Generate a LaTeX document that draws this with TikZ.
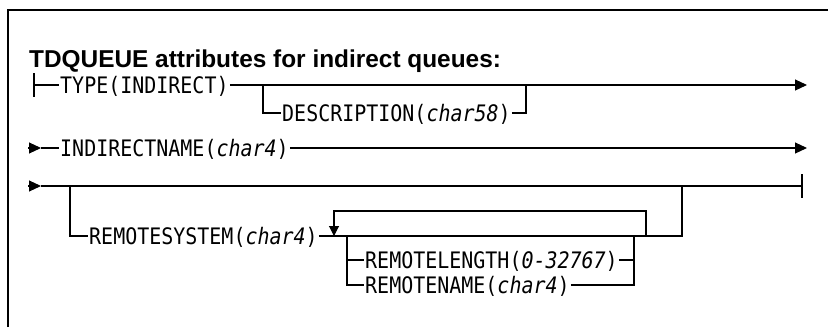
\documentclass[tikz,border=0pt]{standalone}
\usepackage{fontspec}
\usetikzlibrary{arrows.meta}
\newfontfamily\synfont[FakeStretch=0.88]{DejaVu Sans Mono}
\newfontfamily\titlefont{Liberation Sans}
\begin{document}
\begin{tikzpicture}[x=1pt,y=-1pt,
  line/.style={line width=1.1pt,line cap=butt},
  frameline/.style={line width=1.6pt},
  kw/.style={anchor=west,inner xsep=1pt,inner ysep=0pt,text height=16.5pt,text depth=0pt,
    font=\synfont\fontsize{22.7}{22.7}\selectfont},
  endarrow/.style={line,-{Triangle[length=12pt,width=11pt]}},
  looparrow/.style={line,-{Triangle[length=10pt,width=10pt]}}]
\useasboundingbox (0,0) rectangle (828,327);
% frame
\coordinate (f1) at (8,327);
\coordinate (f2) at (8,10);
\coordinate (f3) at (828,10);
\draw[frameline] (f1) -- (f2) -- (f3);
% title
\node[anchor=base west,inner sep=0pt,font=\titlefont\bfseries\fontsize{24.4}{24.4}\selectfont] (title) at (29,67) {TDQUEUE attributes for indirect queues:};
% ---- row 1
\coordinate (s1) at (34,85);
\coordinate (s1t) at (34,73);
\coordinate (s1b) at (34,97);
\node[kw] (type) at (59,85) {TYPE(INDIRECT)};
\coordinate (e1) at (807,85);
\draw[line] (s1t) -- (s1b);
\draw[line] (s1) -- (type.west);
\draw[endarrow] (type.east) -- (e1);
\coordinate (b1a) at (263,85);
\coordinate (b1b) at (263,113);
\node[kw] (desc) at (281,113) {DESCRIPTION(\textit{char58})};
\coordinate (b1c) at (526,113);
\coordinate (b1d) at (526,85);
\draw[line] (b1a) -- (b1b) -- (desc.west);
\draw[line] (desc.east) -- (b1c) -- (b1d);
% ---- row 2
\coordinate (s2) at (28,148);
\coordinate (s2a) at (41,148);
\node[kw] (iname) at (59,148) {INDIRECTNAME(\textit{char4})};
\coordinate (e2) at (807,148);
\draw[endarrow] (s2) -- (s2a);
\draw[line] (s2a) -- (iname.west);
\draw[endarrow] (iname.east) -- (e2);
% ---- row 3
\coordinate (s3) at (28,186);
\coordinate (s3a) at (41,186);
\coordinate (e3) at (802,186);
\coordinate (e3t) at (802,174);
\coordinate (e3b) at (802,198);
\draw[endarrow] (s3) -- (s3a);
\draw[line] (s3a) -- (e3);
\draw[line] (e3t) -- (e3b);
\coordinate (b3a) at (70,186);
\coordinate (b3b) at (70,236);
\node[kw] (rsys) at (88,236) {REMOTESYSTEM(\textit{char4})};
\coordinate (b3c) at (682,236);
\coordinate (b3d) at (682,186);
\draw[line] (b3a) -- (b3b) -- (rsys.west);
\draw[line] (rsys.east) -- (b3c) -- (b3d);
% repeat loop
\coordinate (l1) at (646,236);
\coordinate (l2) at (646,211);
\coordinate (l3) at (334,211);
\coordinate (l4) at (334,236);
\draw[looparrow] (l1) -- (l2) -- (l3) -- (l4);
% choice
\coordinate (c1) at (347,236);
\coordinate (c2) at (347,260);
\coordinate (c3) at (347,285);
\node[kw] (rlen) at (364,260) {REMOTELENGTH(\textit{0-32767})};
\node[kw] (rname) at (364,285) {REMOTENAME(\textit{char4})};
\coordinate (c4) at (634,260);
\coordinate (c5) at (634,285);
\coordinate (c6) at (634,236);
\draw[line] (c1) -- (c3) -- (rname.west);
\draw[line] (c2) -- (rlen.west);
\draw[line] (rlen.east) -- (c4);
\draw[line] (rname.east) -- (c5) -- (c6);
\end{tikzpicture}
\end{document}
